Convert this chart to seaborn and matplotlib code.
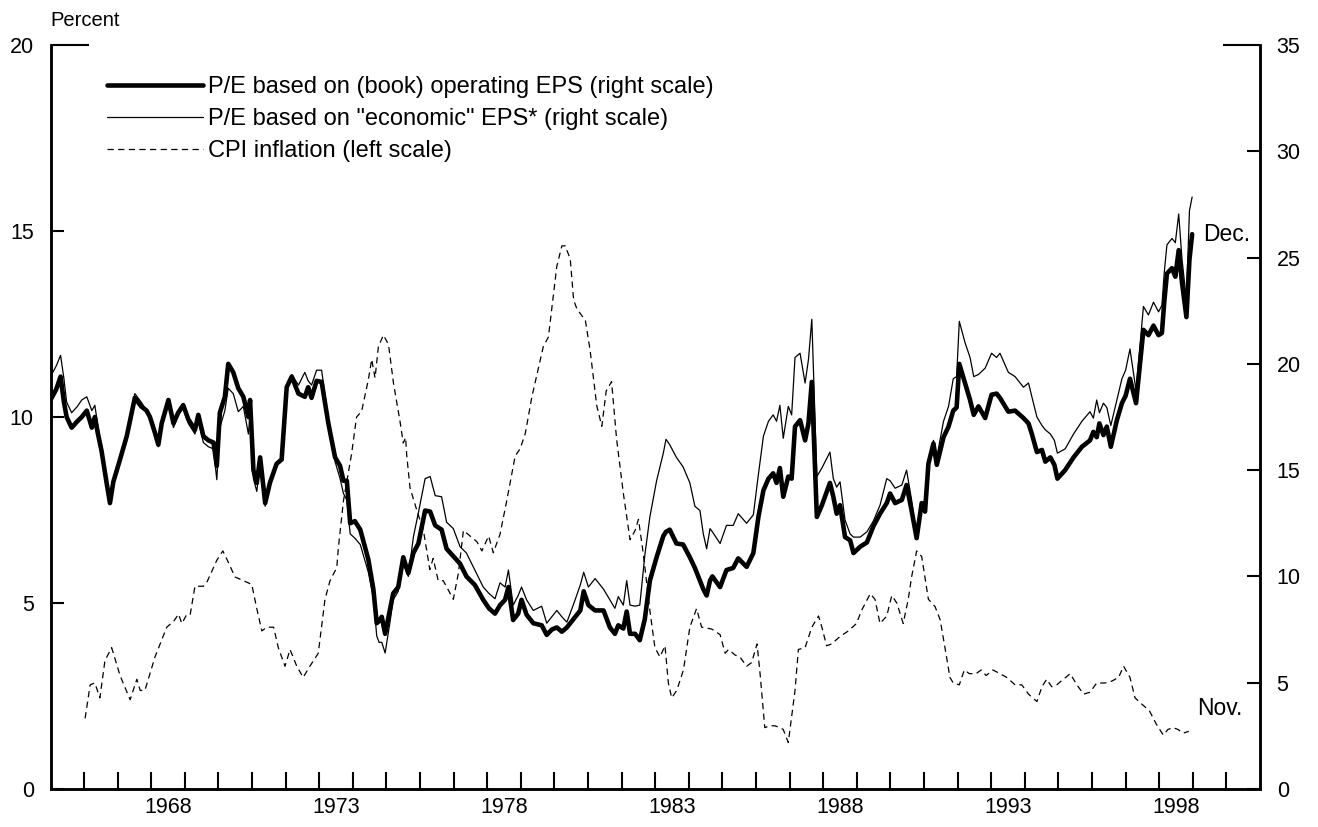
import matplotlib
matplotlib.use("Agg")
import matplotlib.pyplot as plt
import seaborn as sns

# ---------------- data ----------------
pe_dates = [1965.00, 1965.17, 1965.30, 1965.40, 1965.48, 1965.63, 1965.80, 1965.93, 1966.08, 1966.23,
            1966.32, 1966.40, 1966.52, 1966.67, 1966.77, 1966.87, 1967.05, 1967.27, 1967.51, 1967.70,
            1967.86, 1967.96, 1968.10, 1968.21, 1968.31, 1968.51, 1968.66, 1968.80, 1968.95, 1969.10,
            1969.30, 1969.40, 1969.55, 1969.70, 1969.85, 1969.95, 1970.04, 1970.19, 1970.29, 1970.44,
            1970.59, 1970.74, 1970.89, 1970.94, 1971.04, 1971.14, 1971.24, 1971.39, 1971.53, 1971.73,
            1971.88, 1972.03, 1972.18, 1972.38, 1972.57, 1972.67, 1972.77, 1972.92, 1973.07, 1973.27,
            1973.47, 1973.62, 1973.72, 1973.82, 1973.92, 1974.06, 1974.22, 1974.46, 1974.61, 1974.71,
            1974.78, 1974.86, 1974.96, 1975.10, 1975.20, 1975.35, 1975.50, 1975.65, 1975.80, 1975.95,
            1976.15, 1976.30, 1976.45, 1976.64, 1976.79, 1976.99, 1977.19, 1977.38, 1977.63, 1977.88,
            1978.05, 1978.23, 1978.38, 1978.53, 1978.63, 1978.77, 1978.92, 1979.02, 1979.17, 1979.37,
            1979.62, 1979.77, 1979.92, 1980.07, 1980.22, 1980.37, 1980.57, 1980.77, 1980.87, 1981.01,
            1981.21, 1981.46, 1981.65, 1981.80, 1981.90, 1982.05, 1982.15, 1982.25, 1982.40, 1982.54,
            1982.69, 1982.84, 1983.04, 1983.24, 1983.32, 1983.43, 1983.63, 1983.83, 1984.03, 1984.18,
            1984.33, 1984.43, 1984.53, 1984.63, 1984.70, 1984.93, 1985.12, 1985.32, 1985.47, 1985.72,
            1985.92, 1986.07, 1986.22, 1986.37, 1986.51, 1986.61, 1986.71, 1986.81, 1986.96, 1987.06,
            1987.16, 1987.31, 1987.46, 1987.56, 1987.66, 1987.81, 1987.96, 1988.20, 1988.30, 1988.40,
            1988.50, 1988.65, 1988.80, 1988.90, 1989.10, 1989.30, 1989.49, 1989.69, 1989.89, 1989.99,
            1990.14, 1990.34, 1990.48, 1990.63, 1990.78, 1990.93, 1991.03, 1991.13, 1991.28, 1991.38,
            1991.58, 1991.73, 1991.87, 1991.97, 1992.05, 1992.22, 1992.37, 1992.48, 1992.62, 1992.82,
            1993.01, 1993.16, 1993.26, 1993.51, 1993.71, 1993.96, 1994.11, 1994.21, 1994.36, 1994.51,
            1994.61, 1994.76, 1994.88, 1994.97, 1995.20, 1995.45, 1995.70, 1995.94, 1996.04, 1996.14,
            1996.22, 1996.34, 1996.44, 1996.56, 1996.74, 1996.89, 1997.00, 1997.13, 1997.31, 1997.53,
            1997.68, 1997.83, 1997.98, 1998.08, 1998.15, 1998.23, 1998.38, 1998.48, 1998.58, 1998.68,
            1998.81, 1998.90, 1998.98]

pe_book = [18.3, 18.8, 19.4, 18.2, 17.5, 17.0, 17.3, 17.5, 17.8, 17.0,
           17.5, 16.8, 15.9, 14.4, 13.45, 14.45, 15.4, 16.6, 18.4, 18.0,
           17.8, 17.5, 16.8, 16.2, 17.2, 18.3, 17.2, 17.7, 18.06, 17.4,
           16.9, 17.6, 16.6, 16.4, 16.3, 15.2, 17.7, 18.45, 20.0, 19.6,
           18.85, 18.45, 17.5, 18.3, 15.0, 14.4, 15.6, 13.45, 14.4, 15.3,
           15.5, 18.9, 19.4, 18.6, 18.45, 18.9, 18.4, 19.2, 19.15, 17.2,
           15.6, 15.2, 14.5, 14.5, 12.5, 12.6, 12.2, 10.8, 9.4, 7.8,
           7.9, 8.1, 7.3, 8.4, 9.2, 9.5, 10.9, 10.15, 11.1, 11.55,
           13.1, 13.05, 12.4, 12.2, 11.3, 10.95, 10.6, 10.0, 9.6, 8.9,
           8.5, 8.25, 8.65, 8.9, 9.5, 7.95, 8.25, 8.9, 8.2, 7.8,
           7.7, 7.25, 7.5, 7.6, 7.4, 7.6, 8.0, 8.4, 9.3, 8.65,
           8.4, 8.4, 7.6, 7.3, 7.7, 7.55, 8.35, 7.3, 7.3, 7.0,
           8.0, 9.8, 10.9, 11.9, 12.1, 12.2, 11.55, 11.5, 10.9, 10.4,
           9.8, 9.4, 9.1, 9.8, 10.0, 9.5, 10.3, 10.4, 10.85, 10.45,
           11.1, 12.8, 14.05, 14.6, 14.85, 14.4, 15.1, 13.75, 14.7, 14.6,
           17.05, 17.35, 16.4, 17.2, 19.15, 12.8, 13.35, 14.4, 13.75, 12.95,
           13.35, 11.85, 11.7, 11.1, 11.4, 11.6, 12.35, 12.95, 13.45, 13.9,
           13.45, 13.6, 14.3, 13.1, 11.8, 13.45, 13.05, 15.3, 16.25, 15.25,
           16.55, 17.05, 17.8, 17.95, 20.0, 19.1, 18.3, 17.6, 18.0, 17.45,
           18.55, 18.6, 18.4, 17.75, 17.8, 17.45, 17.2, 16.7, 15.85, 15.95,
           15.4, 15.6, 15.25, 14.6, 15.0, 15.6, 16.1, 16.4, 16.8, 16.55,
           17.2, 16.65, 17.05, 16.1, 17.35, 18.15, 18.5, 19.3, 18.15, 21.6,
           21.35, 21.8, 21.35, 21.45, 22.9, 24.25, 24.5, 24.1, 25.35, 23.8,
           22.2, 24.9, 26.1]

pe_econ = [19.4, 19.9, 20.4, 19.3, 18.2, 17.7, 18.0, 18.3, 18.45, 17.8,
           18.05, 17.2, 16.1, 14.5, 13.5, 14.4, 15.4, 16.5, 18.6, 18.2,
           17.8, 17.4, 16.6, 16.1, 17.0, 18.3, 17.0, 17.6, 17.9, 17.2,
           16.7, 17.3, 16.3, 16.1, 16.0, 14.55, 17.0, 17.8, 18.85, 18.6,
           17.75, 18.0, 16.7, 17.6, 14.6, 14.0, 15.3, 13.3, 14.3, 15.3,
           15.6, 19.0, 19.5, 19.0, 19.6, 19.2, 19.0, 19.7, 19.7, 17.4,
           15.4, 14.6, 13.9, 13.6, 12.0, 11.8, 11.5, 10.2, 9.0, 7.2,
           6.9, 6.9, 6.4, 7.8, 8.9, 9.3, 10.6, 10.0, 11.85, 13.0,
           14.6, 14.7, 13.8, 13.75, 12.55, 12.25, 11.4, 11.1, 10.3, 9.5,
           9.2, 8.95, 9.7, 9.5, 10.3, 8.65, 9.1, 9.5, 8.9, 8.4,
           8.6, 7.8, 8.1, 8.4, 8.1, 7.85, 8.7, 9.6, 10.2, 9.5,
           9.9, 9.4, 8.9, 8.5, 9.05, 8.65, 9.8, 8.65, 8.6, 8.65,
           11.0, 12.8, 14.5, 15.8, 16.45, 16.2, 15.6, 15.15, 14.4, 13.3,
           13.1, 12.0, 11.3, 12.25, 12.1, 11.55, 12.4, 12.4, 12.95, 12.5,
           12.9, 14.8, 16.6, 17.3, 17.6, 17.3, 18.05, 16.5, 18.0, 17.6,
           20.3, 20.5, 19.1, 20.2, 22.1, 14.7, 15.1, 15.85, 14.6, 14.2,
           14.45, 12.65, 12.0, 11.85, 11.85, 12.1, 12.6, 13.35, 14.6, 14.5,
           14.15, 14.3, 15.0, 13.6, 11.85, 13.3, 13.6, 15.45, 16.4, 15.6,
           17.3, 18.0, 19.3, 19.4, 22.0, 21.0, 20.3, 19.4, 19.5, 19.8,
           20.5, 20.3, 20.5, 19.6, 19.4, 18.9, 19.1, 18.45, 17.5, 17.1,
           16.9, 16.7, 16.4, 15.8, 16.0, 16.7, 17.3, 17.75, 17.45, 18.3,
           17.7, 18.15, 17.95, 17.1, 18.3, 19.3, 19.7, 20.7, 18.75, 22.7,
           22.3, 22.9, 22.45, 22.75, 24.3, 25.6, 25.9, 25.7, 27.05, 24.9,
           23.0, 27.2, 27.85]

cpi_dates = [1966.03, 1966.18, 1966.32, 1966.47, 1966.62, 1966.82, 1967.07, 1967.37, 1967.57, 1967.67,
             1967.81, 1968.11, 1968.46, 1968.66, 1968.81, 1968.91, 1969.06, 1969.16, 1969.30, 1969.55,
             1969.65, 1969.95, 1970.13, 1970.29, 1970.49, 1970.99, 1971.14, 1971.29, 1971.44, 1971.64,
             1971.78, 1971.98, 1972.13, 1972.33, 1972.52, 1972.72, 1972.97, 1973.17, 1973.32, 1973.52,
             1973.57, 1973.72, 1973.96, 1974.11, 1974.26, 1974.46, 1974.56, 1974.66, 1974.76, 1974.91,
             1975.06, 1975.21, 1975.40, 1975.50, 1975.57, 1975.60, 1975.70, 1975.90, 1976.10, 1976.29,
             1976.39, 1976.54, 1976.69, 1976.99, 1977.14, 1977.29, 1977.69, 1977.84, 1978.04, 1978.18,
             1978.38, 1978.58, 1978.83, 1978.98, 1979.13, 1979.33, 1979.67, 1979.82, 1980.07, 1980.22,
             1980.32, 1980.47, 1980.57, 1980.67, 1980.92, 1981.06, 1981.26, 1981.41, 1981.54, 1981.70,
             1981.85, 1982.05, 1982.25, 1982.40, 1982.50, 1982.64, 1982.84, 1982.99, 1983.14, 1983.29,
             1983.39, 1983.49, 1983.64, 1983.84, 1984.03, 1984.23, 1984.38, 1984.68, 1984.93, 1985.08,
             1985.18, 1985.38, 1985.52, 1985.72, 1985.87, 1986.03, 1986.12, 1986.26, 1986.41, 1986.56,
             1986.71, 1986.81, 1986.96, 1987.16, 1987.26, 1987.46, 1987.66, 1987.86, 1987.96, 1988.10,
             1988.25, 1988.50, 1988.75, 1988.99, 1989.14, 1989.40, 1989.54, 1989.69, 1989.89, 1990.04,
             1990.19, 1990.38, 1990.53, 1990.63, 1990.78, 1990.93, 1991.13, 1991.33, 1991.48, 1991.67,
             1991.77, 1991.87, 1992.05, 1992.20, 1992.35, 1992.55, 1992.70, 1992.85, 1993.05, 1993.26,
             1993.46, 1993.71, 1993.91, 1994.11, 1994.36, 1994.51, 1994.65, 1994.80, 1994.95, 1995.15,
             1995.35, 1995.55, 1995.75, 1995.94, 1996.14, 1996.39, 1996.59, 1996.79, 1996.94, 1997.13,
             1997.28, 1997.46, 1997.71, 1997.91, 1998.12, 1998.26, 1998.41, 1998.56, 1998.71, 1998.88]

cpi_values = [1.9, 2.8, 2.85, 2.45, 3.45, 3.8, 3.05, 2.4, 2.95, 2.65,
              2.65, 3.55, 4.35, 4.5, 4.7, 4.45, 4.7, 4.7, 5.45, 5.45,
              5.55, 6.15, 6.4, 6.1, 5.7, 5.5, 4.85, 4.25, 4.35, 4.35,
              3.8, 3.3, 3.75, 3.3, 3.0, 3.3, 3.65, 5.1, 5.6, 5.95,
              6.5, 7.75, 9.0, 10.0, 10.15, 11.0, 11.55, 11.05, 11.9, 12.2,
              11.95, 10.9, 9.9, 9.3, 9.45, 9.0, 8.1, 7.5, 6.95, 5.9,
              6.2, 5.6, 5.6, 5.1, 5.8, 6.95, 6.65, 6.4, 6.8, 6.35,
              6.85, 7.75, 8.95, 9.15, 9.55, 10.55, 11.9, 12.15, 14.05, 14.6,
              14.6, 14.25, 13.15, 12.9, 12.6, 11.8, 10.3, 9.75, 10.7, 10.95,
              9.4, 7.95, 6.7, 6.95, 7.25, 6.35, 4.8, 3.8, 3.55, 3.85,
              2.85, 2.45, 2.65, 3.2, 4.35, 4.85, 4.35, 4.3, 4.15, 3.65,
              3.75, 3.6, 3.55, 3.3, 3.4, 3.9, 3.1, 1.65, 1.7, 1.7,
              1.65, 1.6, 1.25, 2.65, 3.75, 3.8, 4.35, 4.65, 4.35, 3.85,
              3.9, 4.1, 4.25, 4.45, 4.8, 5.25, 5.1, 4.45, 4.65, 5.2,
              5.0, 4.45, 5.1, 5.7, 6.4, 6.25, 5.1, 4.9, 4.55, 3.55,
              3.0, 2.85, 2.8, 3.2, 3.1, 3.1, 3.2, 3.05, 3.2, 3.1,
              3.0, 2.8, 2.8, 2.55, 2.35, 2.75, 2.95, 2.75, 2.8, 2.95,
              3.1, 2.8, 2.55, 2.6, 2.85, 2.85, 2.9, 3.0, 3.3, 3.0,
              2.45, 2.3, 2.1, 1.75, 1.45, 1.6, 1.65, 1.6, 1.5, 1.55]

year_ticks = list(range(1966, 2001))
label_years = [1968, 1973, 1978, 1983, 1988, 1993, 1998]
left_ticks = [0, 5, 10, 15, 20]
right_ticks = [0, 5, 10, 15, 20, 25, 30, 35]
legend_labels = ["P/E based on (book) operating EPS (right scale)",
                 "P/E based on \"economic\" EPS* (right scale)",
                 "CPI inflation (left scale)"]

# ---------------- style ----------------
sns.set_theme(style="white")
plt.rcParams['font.family'] = ['Liberation Sans', 'DejaVu Sans']
for k in ['text.color', 'axes.labelcolor', 'xtick.color', 'ytick.color', 'axes.edgecolor']:
    plt.rcParams[k] = 'black'

W, H = 1318, 827
FS_TICK = 15.5
FS_LEG = 17
FS_NOTE = 16.5
fig = plt.figure(figsize=(W / 100, H / 100), dpi=100)
ax = fig.add_axes([50.5 / W, 1 - 789 / H, (1260 - 50.5) / W, (789 - 45) / H])
ax2 = ax.twinx()

# CPI on the left scale
sns.lineplot(x=cpi_dates, y=cpi_values, ax=ax, color='black', linewidth=0.9,
             linestyle=(0, (5, 3.5)), estimator=None, label=legend_labels[2])
# P/E lines on the right scale
sns.lineplot(x=pe_dates, y=pe_econ, ax=ax2, color='black', linewidth=0.9,
             estimator=None, label=legend_labels[1])
sns.lineplot(x=pe_dates, y=pe_book, ax=ax2, color='black', linewidth=3.3,
             estimator=None, label=legend_labels[0])

for a in (ax, ax2):
    lg = a.get_legend()
    if lg is not None:
        lg.remove()

ax.set_xlim(1965, 2001)
ax.set_ylim(0, 20)
ax2.set_ylim(0, 35)

# x ticks: year marks, labels centred in the year
ax.set_xticks(year_ticks)
ax.set_xticklabels([])
ax.set_xticks([y + 0.5 for y in label_years], minor=True)
ax.set_xticklabels([str(y) for y in label_years], minor=True)
ax.tick_params(axis='x', which='major', direction='in', length=12, width=1.5, bottom=True)
ax.tick_params(axis='x', which='minor', length=0, pad=6, labelsize=FS_TICK, bottom=True)

ax.set_yticks(left_ticks)
ax.set_yticklabels([str(v) for v in left_ticks])
ax.tick_params(axis='y', direction='in', length=9.5, width=1.5, pad=12,
               labelsize=FS_TICK, left=True, right=False)
ax2.set_yticks(right_ticks)
ax2.set_yticklabels([str(v) for v in right_ticks])
ax2.tick_params(axis='y', direction='in', length=9.5, width=1.5, pad=12,
                labelsize=FS_TICK, right=True, left=False)

ax.set_xlabel('')
ax.set_ylabel('')
ax2.set_ylabel('')

for a in (ax, ax2):
    a.spines['top'].set_visible(False)
    for s in ('left', 'right', 'bottom'):
        a.spines[s].set_linewidth(1.8)
        a.spines[s].set_color('black')
    a.grid(False)

# longer top ticks
ax.yaxis.get_major_ticks()[-1].tick1line.set_markersize(27)
ax2.yaxis.get_major_ticks()[-1].tick2line.set_markersize(27)

# legend
h, l = ax2.get_legend_handles_labels()
hc, lc = ax.get_legend_handles_labels()
hmap = dict(zip(l + lc, h + hc))
handles = [hmap[t] for t in legend_labels]
leg = ax2.legend(handles, legend_labels, loc='upper left',
                 bbox_to_anchor=(107 / W, 1 - 76.5 / H), bbox_transform=fig.transFigure,
                 frameon=False, fontsize=FS_LEG, handlelength=4.07, handletextpad=0.21,
                 labelspacing=0.42, borderpad=0, borderaxespad=0)

# annotations
fig.text(50 / W, 1 - 20 / H, 'Percent', ha='left', va='center', fontsize=14.5)
ax2.annotate('Dec.', xy=(pe_dates[-1], pe_book[-1]), xytext=(8, 0),
             textcoords='offset points', ha='left', va='center', fontsize=FS_NOTE)
ax.annotate('Nov.', xy=(cpi_dates[-1], cpi_values[-1]), xytext=(6, 16.5),
            textcoords='offset points', ha='left', va='center', fontsize=FS_NOTE)

fig.savefig('out.png', dpi=100)
